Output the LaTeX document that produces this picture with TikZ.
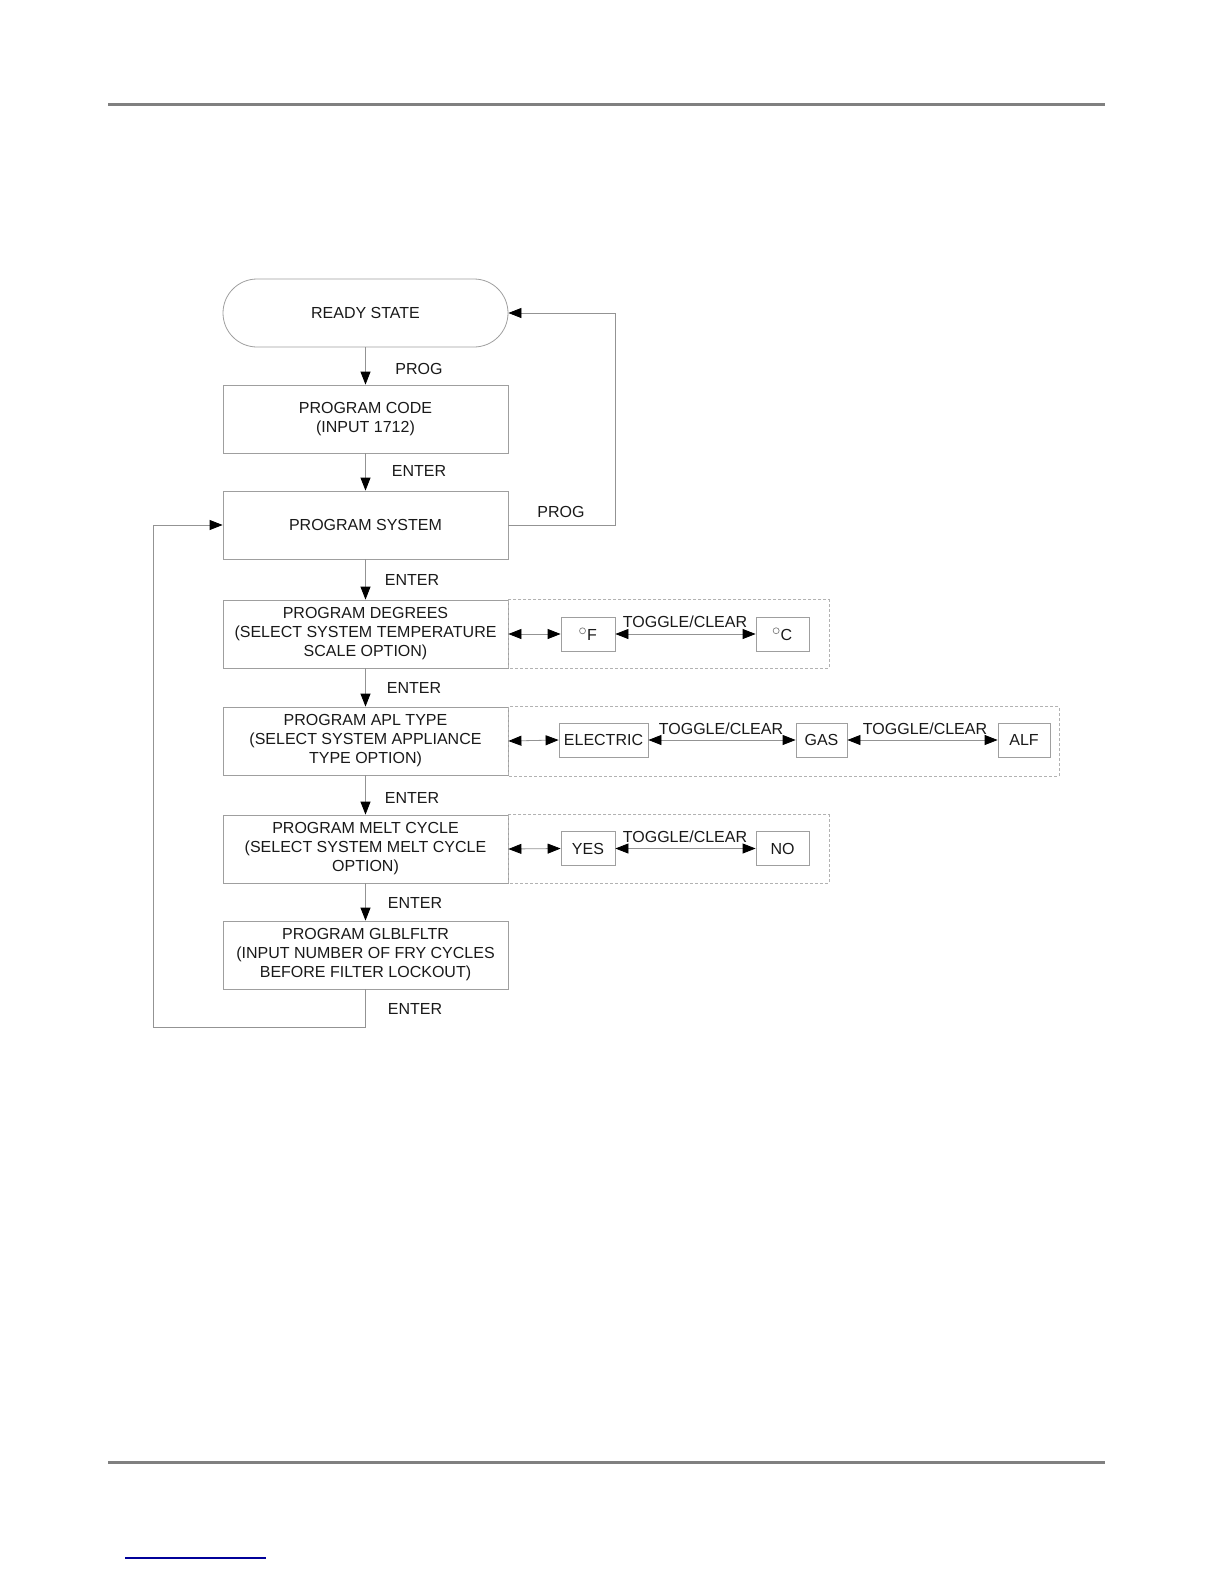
\documentclass[tikz,border=0pt]{standalone}
\usepackage{fontspec}
\setmainfont{Liberation Sans}
\usetikzlibrary{arrows.meta}

\tikzset{
  txt/.style={font=\fontsize{8}{9.5}\selectfont, text=black!90},
  box/.style={txt, draw=gray!75, minimum width=142.5pt, minimum height=34pt, inner sep=0pt, align=center},
  optbox/.style={txt, draw=gray!75, minimum height=17pt, inner sep=0pt},
  lbl/.style={txt, inner sep=0pt},
  tip/.tip={Triangle[length=6.5pt,width=5pt,black]},
  flow/.style={draw=gray!85, -tip},
  both/.style={draw=gray!85, tip-tip},
  dashbox/.style={draw=gray!60, dash pattern=on 1.5pt off 1pt, line width=0.4pt}
}
\newcommand{\degsign}{\raisebox{3.2pt}{\tikz\draw[gray, line width=0.35pt] (0,0) circle (1.5pt);}\hspace{0.6pt}}

\begin{document}
\begin{tikzpicture}[x=0.5pt,y=-0.5pt]
\useasboundingbox (0,0) rectangle (1224,1584);

% page rules
\draw[line width=1.5pt, gray] (108,105) -- (1105,105);
\draw[line width=1.5pt, gray] (108,1462) -- (1105,1462);
\draw[line width=0.6pt, blue!60!black] (125,1558) -- (266,1558);

% main column
\node[box, rounded corners=17pt] (ready) at (365.5,313) {READY STATE};
\node[box] (code) at (365.5,419) {PROGRAM CODE\\(INPUT 1712)};
\node[box] (sys) at (365.5,525) {PROGRAM SYSTEM};
\node[box] (deg) at (365.5,634) {PROGRAM DEGREES\\(SELECT SYSTEM TEMPERATURE\\SCALE OPTION)};
\node[box] (apl) at (365.5,741) {PROGRAM APL TYPE\\(SELECT SYSTEM APPLIANCE\\TYPE OPTION)};
\node[box] (melt) at (365.5,849) {PROGRAM MELT CYCLE\\(SELECT SYSTEM MELT CYCLE\\OPTION)};
\node[box] (fltr) at (365.5,955) {PROGRAM GLBLFLTR\\(INPUT NUMBER OF FRY CYCLES\\BEFORE FILTER LOCKOUT)};

% options
\node[optbox, minimum width=27pt] (degF) at (588,634) {\degsign F};
\node[optbox, minimum width=26.5pt] (degC) at (782.5,634) {\degsign C};
\node[optbox, minimum width=44.5pt] (elec) at (603.5,740) {ELECTRIC};
\node[optbox, minimum width=25.5pt] (gas) at (821.5,740) {GAS};
\node[optbox, minimum width=26pt] (alf) at (1024,740) {ALF};
\node[optbox, minimum width=27pt] (yes) at (588,848.5) {YES};
\node[optbox, minimum width=26.5pt] (no) at (782.5,848.5) {NO};

% dashed option frames
\draw[dashbox] (deg.north east) rectangle (829,668);
\draw[dashbox] (apl.north east) rectangle (1059,776);
\draw[dashbox] (melt.north east) rectangle (829,883);

% labels
\node[lbl] (l1) at (419,369) {PROG};
\node[lbl] (l2) at (419,471) {ENTER};
\node[lbl] (l3) at (561,512) {PROG};
\node[lbl] (l4) at (412,580) {ENTER};
\node[lbl] (l5) at (414,688) {ENTER};
\node[lbl] (l6) at (412,798) {ENTER};
\node[lbl] (l7) at (415,903) {ENTER};
\node[lbl] (l8) at (415,1009) {ENTER};
\node[lbl] (t1) at (685,622) {TOGGLE/CLEAR};
\node[lbl] (t2) at (721,729) {TOGGLE/CLEAR};
\node[lbl] (t3) at (925,729) {TOGGLE/CLEAR};
\node[lbl] (t4) at (685,837) {TOGGLE/CLEAR};

\coordinate (back) at (615,313);
\coordinate (loop) at (153,1027);

% connectors
\draw[flow] (ready) -- (code);
\draw[flow] (code) -- (sys);
\draw[flow] (sys) -- (deg);
\draw[flow] (deg) -- (apl);
\draw[flow] (apl) -- (melt);
\draw[flow] (melt) -- (fltr);
\draw[flow] (fltr.south) |- (loop) |- (sys.west);
\draw[flow] (sys.east) -| (back) -- (ready.east);

\draw[both] (deg.east) -- (degF.west);
\draw[both] (degF.east) -- (degC.west);
\draw[both] (apl.east) -- (elec.west);
\draw[both] (elec.east) -- (gas.west);
\draw[both] (gas.east) -- (alf.west);
\draw[both] (melt.east) -- (yes.west);
\draw[both] (yes.east) -- (no.west);
\end{tikzpicture}
\end{document}
